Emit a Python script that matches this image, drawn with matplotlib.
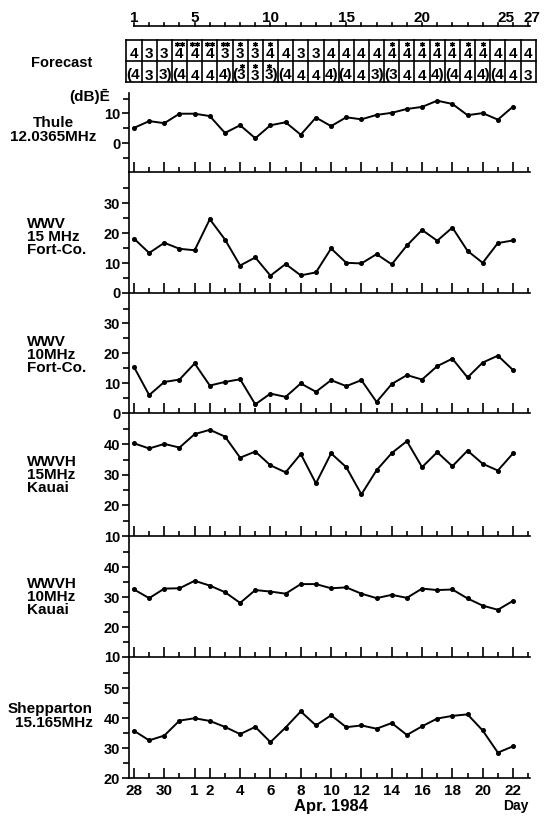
import matplotlib
matplotlib.use("Agg")
import matplotlib.pyplot as plt

plt.rcParams["font.family"] = ["Liberation Sans", "DejaVu Sans"]
plt.rcParams["font.weight"] = "bold"

W, H = 546, 817
fig = plt.figure(figsize=(W / 100, H / 100), dpi=100)


def fx(p):
    return p / W


def fy(p):
    return 1 - p / H


# ---- data -------------------------------------------------------------
days = ["28", "29", "30", "31"] + [str(d) for d in range(1, 23)]
labeled_days = ["28", "30", "1", "2", "4", "6", "8", "10", "12", "14",
                "16", "18", "20", "22"]

thule = [5.1, 7.4, 6.7, 9.9, 9.9, 9.1, 3.4, 6.0, 1.6, 6.0, 7.0, 2.8, 8.6,
         5.7, 8.7, 8.0, 9.5, 10.2, 11.5, 12.2, 14.3, 13.2, 9.4, 10.1, 7.9, 12.3]
wwv15 = [18.2, 13.4, 16.8, 14.8, 14.3, 24.7, 17.9, 9.2, 11.9, 5.8, 9.7, 5.9,
         6.9, 14.9, 10.1, 9.9, 13.0, 9.6, 15.9, 21.1, 17.5, 21.9, 14.1, 10.1,
         16.7, 17.6]
wwv10 = [15.4, 6.0, 10.4, 11.2, 16.6, 9.2, 10.4, 11.3, 2.9, 6.5, 5.4, 9.9,
         7.1, 11.0, 9.0, 11.0, 3.7, 9.7, 12.7, 11.2, 15.7, 18.2, 11.9, 16.9,
         19.2, 14.4]
wwvh15 = [40.3, 38.6, 40.1, 38.9, 43.3, 44.7, 42.5, 35.6, 37.6, 33.1, 30.8,
          36.8, 27.2, 37.0, 32.5, 23.6, 31.5, 37.1, 41.0, 32.5, 37.4, 32.8,
          37.9, 33.6, 31.4, 37.0]
wwvh10 = [32.6, 29.7, 32.9, 33.0, 35.5, 33.9, 31.7, 28.1, 32.4, 31.9, 31.2,
          34.4, 34.4, 33.0, 33.3, 31.2, 29.7, 30.8, 29.8, 32.9, 32.4, 32.6,
          29.6, 27.2, 25.8, 28.8]
shepparton = [35.8, 32.6, 34.2, 39.2, 40.0, 39.1, 37.1, 34.7, 37.1, 32.0,
              36.9, 42.3, 37.6, 41.0, 37.0, 37.6, 36.5, 38.4, 34.4, 37.3,
              39.9, 40.8, 41.3, 35.9, 28.5, 30.6]

station_names = ["Thule\n12.0365MHz", "WWV\n15 MHz\nFort-Co.",
                 "WWV\n10MHz\nFort-Co.", "WWVH\n15MHz\nKauai",
                 "WWVH\n10MHz\nKauai", "Shepparton\n15.165MHz"]
series = [thule, wwv15, wwv10, wwvh15, wwvh10, shepparton]
y_limits = [(-9.8, 16.9), (0, 40.5), (0, 40.2), (10, 50.2), (10, 50.5),
            (20, 60.5)]
y_major = [[0, 10], [0, 10, 20, 30], [0, 10, 20, 30], [10, 20, 30, 40],
           [10, 20, 30, 40], [20, 30, 40, 50]]
y_minor = [[-5, 5, 15], [5, 15, 25, 35], [5, 15, 25, 35], [15, 25, 35, 45],
           [15, 25, 35, 45], [25, 35, 45, 55]]

# 27-day rotation scale and the two-row forecast
rotation_days = list(range(1, 28))
rotation_labels = [1, 5, 10, 15, 20, 25, 27]
forecast_upper = [4, 3, 3, 4, 4, 4, 3, 3, 3, 4, 4, 3, 3, 4, 4, 4, 4, 4, 4, 4,
                  4, 4, 4, 4, 4, 4, 4]
forecast_upper_stars = [0, 0, 0, 2, 2, 2, 2, 1, 1, 1, 0, 0, 0, 0, 0, 0, 0, 1,
                        1, 1, 1, 1, 1, 1, 0, 0, 0]
forecast_lower = [4, 3, 3, 4, 4, 4, 4, 3, 3, 3, 4, 4, 4, 4, 4, 4, 3, 3, 4, 4,
                  4, 4, 4, 4, 4, 4, 3]
forecast_lower_stars = [0, 0, 0, 0, 0, 0, 0, 1, 1, 1, 0, 0, 0, 0, 0, 0, 0, 0,
                        0, 0, 0, 0, 0, 0, 0, 0, 0]
forecast_groups = [1, 4, 8, 11, 15, 18, 22, 25]

# ---- layout -----------------------------------------------------------
AX_L, AX_R = 128.5, 530.0
XLIM = (-0.363, 26.12)
panel_bounds = [(93, 172), (172, 293), (293, 413), (413, 536), (536, 657),
                (657, 778)]
name_pos = [(53, 130, "center"), (27, 237, "left"), (27, 355, "left"),
            (27, 475, "left"), (27, 597, "left"), (93, 716, "right")]
# the last two numbers on the rotation scale are lettered close together
label_nudge = {25: 0.55, 27: 0.25}

x = list(range(len(days)))
major_x = [i for i, d in enumerate(days) if d in labeled_days]
minor_x = [i for i, d in enumerate(days) if d not in labeled_days] + [len(days)]

LW = 1.2
for k, (vals, name) in enumerate(zip(series, station_names)):
    top, bot = panel_bounds[k]
    ax = fig.add_axes([fx(AX_L), fy(bot), (AX_R - AX_L) / W, (bot - top) / H])
    ax.plot(x, vals, color="black", lw=1.4, marker="o", ms=2.6,
            mfc="black", mec="black")
    ax.set_xlim(*XLIM)
    ax.set_ylim(*y_limits[k])
    for s in ("top", "right"):
        ax.spines[s].set_visible(False)
    for s in ("left", "bottom"):
        ax.spines[s].set_linewidth(LW)
    ax.set_yticks(y_major[k])
    ax.set_yticks(y_minor[k], minor=True)
    ax.tick_params(axis="y", which="major", direction="out", length=5,
                   width=LW, labelsize=10.5, pad=1)
    ax.tick_params(axis="y", which="minor", direction="out", length=4,
                   width=LW)
    ax.set_xticks(major_x)
    ax.set_xticks(minor_x, minor=True)
    ax.tick_params(axis="x", which="major", direction="in", length=7,
                   width=LW, labelsize=11, pad=4)
    ax.tick_params(axis="x", which="minor", direction="in", length=3.5,
                   width=LW)
    if k == len(series) - 1:
        ax.set_xticklabels([days[i] for i in major_x])
    else:
        ax.tick_params(axis="x", labelbottom=False)
    for t in ax.get_yticklabels() + ax.get_xticklabels():
        t.set_fontweight("bold")
    ax.patch.set_alpha(0)

    px, py, ha = name_pos[k]
    fig.text(fx(px), fy(py), name, ha=ha, va="center", multialignment=ha,
             fontsize=11, fontweight="bold", linespacing=0.95)

fig.text(fx(110), fy(96), "(dB)\u0112", ha="right", va="center",
         fontsize=11, fontweight="bold")
fig.text(fx(331), fy(806), "Apr. 1984", ha="center", va="center",
         fontsize=12, fontweight="bold")
fig.text(fx(516), fy(806), "Day", ha="center", va="center",
         fontsize=10, fontweight="bold")

# ---- rotation scale and forecast table --------------------------------
axt = fig.add_axes([fx(AX_L), fy(90), (AX_R - AX_L) / W, 90 / H])
axt.set_xlim(*XLIM)
axt.set_ylim(90, 0)
axt.axis("off")

SCALE_Y = 26
pos = [d - 1 for d in rotation_days]
axt.plot([pos[0], pos[-1] + 0.15], [SCALE_Y, SCALE_Y], color="black",
         lw=LW, clip_on=False)
for p in pos:
    axt.plot([p, p], [SCALE_Y, SCALE_Y - 3], color="black", lw=LW,
             clip_on=False)
for d in rotation_labels:
    axt.text(d - 1 + label_nudge.get(d, 0.0), SCALE_Y - 1, str(d),
             ha="center", va="bottom", fontsize=11, fontweight="bold",
             clip_on=False)

T_TOP, T_MID, T_BOT = 40, 61, 82
n = len(forecast_upper)
left_edge, right_edge = -0.5, n - 0.5
for yy in (T_TOP, T_MID, T_BOT):
    axt.plot([left_edge, right_edge], [yy, yy], color="black", lw=LW,
             clip_on=False)
for j in range(n + 1):
    xx = left_edge + j
    axt.plot([xx, xx], [T_TOP, T_BOT], color="black", lw=LW, clip_on=False)


def draw_stars(center, y, count):
    offsets = [0.0] if count == 1 else [-0.16, 0.16]
    for off in offsets[:count]:
        axt.plot([center + off], [y], linestyle="none", marker=(6, 2, 0),
                 ms=3.6, mew=0.9, color="black", clip_on=False)


for j in range(n):
    day = j + 1
    axt.text(j, 58.5, str(forecast_upper[j]), ha="center", va="baseline",
             fontsize=11, fontweight="bold", clip_on=False)
    if forecast_upper_stars[j]:
        draw_stars(j, 44.0, forecast_upper_stars[j])

    opening = day in forecast_groups
    closing = (day + 1) in forecast_groups
    label = str(forecast_lower[j])
    shift = 0.0
    if opening:
        label = "(" + label
        shift = -0.05
    if closing:
        label = label + ")"
        shift = 0.05
    axt.text(j + shift, 79.5, label, ha="center", va="baseline",
             fontsize=11, fontweight="bold", clip_on=False)
    if forecast_lower_stars[j]:
        draw_stars(j + (0.1 if opening else (-0.1 if closing else 0.0)),
                   65.5, forecast_lower_stars[j])

fig.text(fx(62), fy(63), "Forecast", ha="center", va="center",
         fontsize=10.5, fontweight="bold")

fig.savefig("out.png", dpi=100)
